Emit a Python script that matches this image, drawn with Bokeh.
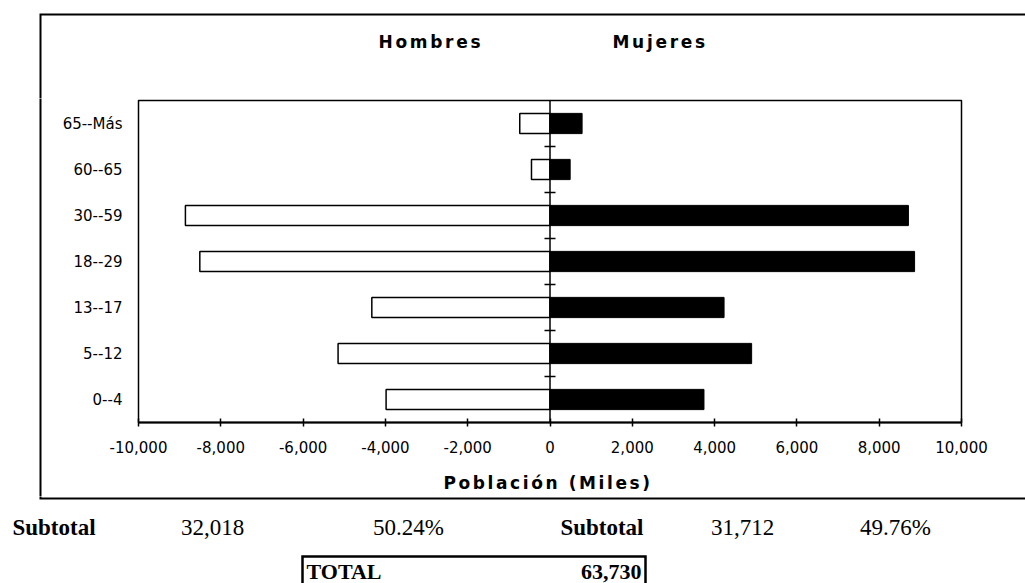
from bokeh.plotting import figure
from bokeh.layouts import column, row
from bokeh.models import (Range1d, FixedTicker, NumeralTickFormatter, Span,
                          ColumnDataSource, Plot, Div)
from bokeh.core.properties import value
from bokeh.embed import file_html
from bokeh.resources import INLINE

# Population by age group (thousands)
age_groups = ["0--4", "5--12", "13--17", "18--29", "30--59", "60--65", "65--Más"]
hombres = [3983, 5150, 4330, 8510, 8860, 450, 735]
mujeres = [3742, 4900, 4230, 8860, 8710, 490, 780]
x_ticks = list(range(-10000, 10001, 2000))
sex_labels = ["Hombres", "Mujeres"]
x_title = "Población (Miles)"

sub_h = sum(hombres)
sub_m = sum(mujeres)
total = sub_h + sub_m

positions = [i + 0.5 for i in range(len(age_groups))]
boundaries = list(range(1, len(age_groups)))

SANS = "DejaVu Sans"
SERIF = "Liberation Serif"

W = 1025
TOP_H, CHART_H, TITLE_H, BOT_H = 98, 364, 34, 87
MID_H = CHART_H + TITLE_H
LEFT_W = 42
MAIN_W = W - LEFT_W
HAS_FRAME_ALIGN = "frame_align" in Plot.properties()


def strip(width, height, **kw):
    """a bare figure whose frame is the whole canvas, in pixel units (y downwards)"""
    f = figure(width=width, height=height, output_backend="svg", toolbar_location=None,
               x_range=Range1d(0, width), y_range=Range1d(height, 0),
               x_axis_location=None, y_axis_location=None, min_border=0,
               background_fill_color="white", border_fill_color="white", **kw)
    f.xgrid.visible = False
    f.ygrid.visible = False
    f.outline_line_color = None
    if HAS_FRAME_ALIGN:
        f.frame_align = False
    return f


# ---- header strip: border top and the two sex headings (letter-spaced)
top = strip(W, TOP_H, styles={"letter-spacing": "2.7px"})
top.line(x=[W + 5, 40, 40], y=[14, 14, TOP_H + 5], line_color="black", line_width=2,
         line_join="miter")
top.text(x=[378, 612], y=[41, 41], text=sex_labels, text_align="left",
         text_baseline="middle", text_font=value(SANS), text_font_style="bold",
         text_font_size="17px", text_color="black")

# ---- main pyramid
p = figure(width=MAIN_W, height=CHART_H, output_backend="svg", toolbar_location=None,
           x_range=Range1d(-10000, 10000), y_range=Range1d(0, len(age_groups)),
           min_border_left=96, min_border_right=64, min_border_top=2,
           min_border_bottom=40, background_fill_color="white",
           border_fill_color="white")
p.xgrid.visible = False
p.ygrid.visible = False
p.outline_line_color = "black"
p.outline_line_width = 1.5
if HAS_FRAME_ALIGN:
    p.frame_align = False

src = ColumnDataSource(dict(y=positions, hombres=[-v for v in hombres], mujeres=mujeres))
p.hbar(y="y", left="hombres", right=0, height=0.44, fill_color="white",
       line_color="black", line_width=1.5, source=src)
p.hbar(y="y", left=0, right="mujeres", height=0.44, fill_color="black",
       line_color="black", line_width=1, source=src)

# central category axis with cross ticks between groups
p.add_layout(Span(location=0, dimension="height", line_color="black", line_width=1.5))
p.scatter(x=[0] * len(boundaries), y=boundaries, marker="dash", size=11,
          line_color="black", line_width=1.5)

xa = p.xaxis[0]
xa.ticker = FixedTicker(ticks=x_ticks)
xa.formatter = NumeralTickFormatter(format="0,0")
xa.major_tick_in = 4
xa.major_tick_out = 4
xa.major_tick_line_width = 1.5
xa.minor_tick_line_color = None
xa.axis_line_width = 2
xa.major_label_text_font = SANS
xa.major_label_text_font_size = "15px"
xa.major_label_text_color = "black"
xa.major_label_standoff = 14

ya = p.yaxis[0]
ya.ticker = FixedTicker(ticks=positions)
ya.major_label_overrides = {pos: lab for pos, lab in zip(positions, age_groups)}
ya.axis_line_color = None
ya.major_tick_line_color = None
ya.minor_tick_line_color = None
ya.major_tick_in = 0
ya.major_tick_out = 0
ya.major_label_standoff = 16
ya.major_label_text_font = SANS
ya.major_label_text_font_size = "15px"
ya.major_label_text_color = "black"

# ---- x title strip under the axis (letter-spaced)
title = strip(MAIN_W, TITLE_H, styles={"letter-spacing": "2.6px"})
title.text(x=[401], y=[20], text=[x_title], text_align="left", text_baseline="middle",
           text_font=value(SANS), text_font_style="bold", text_font_size="17px",
           text_color="black")

# ---- left strip: border left edge beside the pyramid
if HAS_FRAME_ALIGN:
    left = strip(LEFT_W, MID_H)
    left.line(x=[40, 40], y=[-5, MID_H + 5], line_color="black", line_width=2)
else:
    left = Div(width=LEFT_W, height=MID_H, styles={
        "background": "linear-gradient(to right, white 39px, black 39px, "
                      "black 41px, white 41px)"})

# ---- footer strip: border bottom, subtotals and total
bot = strip(W, BOT_H)
bot.line(x=[40, 40, W + 5], y=[-5, 2, 2], line_color="black", line_width=2,
         line_join="miter")

row_y = 31
bot.text(x=[12], y=[row_y], text=["Subtotal"], text_align="left",
         text_baseline="middle", text_font=value(SERIF), text_font_style="bold",
         text_font_size="23px", text_color="black")
bot.text(x=[643], y=[row_y], text=["Subtotal"], text_align="right",
         text_baseline="middle", text_font=value(SERIF), text_font_style="bold",
         text_font_size="23px", text_color="black")
bot.text(x=[212, 408, 742, 895], y=[row_y] * 4,
         text=[f"{sub_h:,}", f"{sub_h / total:.2%}", f"{sub_m:,}", f"{sub_m / total:.2%}"],
         text_align="center", text_baseline="middle", text_font=value(SERIF),
         text_font_size="23px", text_color="black")

bot.line(x=[302, 302, 645, 645], y=[BOT_H + 5, 60, 60, BOT_H + 5], line_color="black",
         line_width=2.5, line_join="miter")
bot.text(x=[306], y=[75], text=["TOTAL"], text_align="left", text_baseline="middle",
         text_font=value(SERIF), text_font_style="bold", text_font_size="22px",
         text_color="black")
bot.text(x=[641], y=[75], text=[f"{total:,}"], text_align="right",
         text_baseline="middle", text_font=value(SERIF), text_font_style="bold",
         text_font_size="22px", text_color="black")

layout = column(top, row(left, column(p, title, spacing=0), spacing=0), bot, spacing=0)
open("out.html", "w").write(file_html(layout, INLINE))
